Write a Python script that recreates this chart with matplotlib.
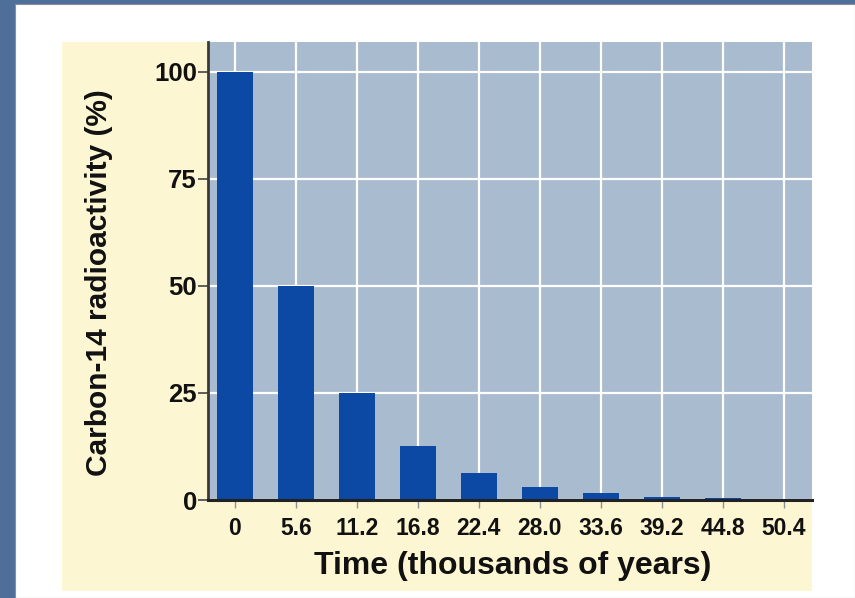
import matplotlib
matplotlib.use("Agg")
import matplotlib.pyplot as plt
from matplotlib.patches import Rectangle

# Carbon-14 decay: remaining radioactivity after each half-life (5,600 years)
time_labels = ["0", "5.6", "11.2", "16.8", "22.4", "28.0", "33.6", "39.2", "44.8", "50.4"]
radioactivity = [100, 50, 25, 12.5, 6.25, 3.1, 1.6, 0.8, 0.4, 0.2]
y_ticks = [0, 25, 50, 75, 100]

W, H = 855, 598
fig = plt.figure(figsize=(W / 100, H / 100), dpi=100)
fig.patch.set_facecolor("#4f6f9b")

def px_rect(x0, y0, x1, y1, **kw):
    fig.patches.append(Rectangle((x0 / W, 1 - y1 / H), (x1 - x0) / W, (y1 - y0) / H,
                                 transform=fig.transFigure, figure=fig,
                                 zorder=-10, **kw))

# white slide panel and cream chart background
px_rect(15, 4, 855, 598, facecolor="white", edgecolor="#8a8f98", linewidth=0.8)
px_rect(62, 42, 812, 591, facecolor="#fdf6d2", edgecolor="none")

ax = fig.add_axes([208 / W, (H - 500) / H, (812 - 208) / W, (500 - 42) / H])
ax.set_facecolor("#a9bbcf")

x = list(range(len(time_labels)))
ax.bar(x, radioactivity, width=0.6, color="#0b49a5", zorder=3)

ax.set_xlim(-0.44, 9.46)
ax.set_ylim(0, 107)
ax.set_xticks(x)
ax.set_xticklabels(time_labels)
ax.set_yticks(y_ticks)

ax.grid(True, color="white", linewidth=1.6, zorder=1)
ax.set_axisbelow(True)

for side in ("top", "right"):
    ax.spines[side].set_visible(False)
ax.spines["left"].set_color("#3a3a3a")
ax.spines["left"].set_linewidth(2)
ax.spines["bottom"].set_color("#222222")
ax.spines["bottom"].set_linewidth(2.2)
ax.spines["left"].set_zorder(4)
ax.spines["bottom"].set_zorder(4)

font = "Liberation Sans"
ax.tick_params(axis="y", length=7, width=1.2, color="#444444", pad=1,
               labelsize=18.5)
ax.tick_params(axis="x", length=6, width=1, color="#8a9099", pad=6,
               labelsize=16.5)
for lab in ax.get_xticklabels() + ax.get_yticklabels():
    lab.set_fontfamily(font)
    lab.set_fontweight("bold")
    lab.set_color("#111111")

ax.set_xlabel("Time (thousands of years)", fontsize=23, fontweight="bold",
              fontfamily=font, color="#111111")
ax.set_ylabel("Carbon-14 radioactivity (%)", fontsize=21.5, fontweight="bold",
              fontfamily=font, color="#111111")
ax.xaxis.set_label_coords(0.504, -0.112)
ax.yaxis.set_label_coords(-0.158, 0.474)

fig.savefig("out.png", dpi=100, facecolor=fig.get_facecolor())
